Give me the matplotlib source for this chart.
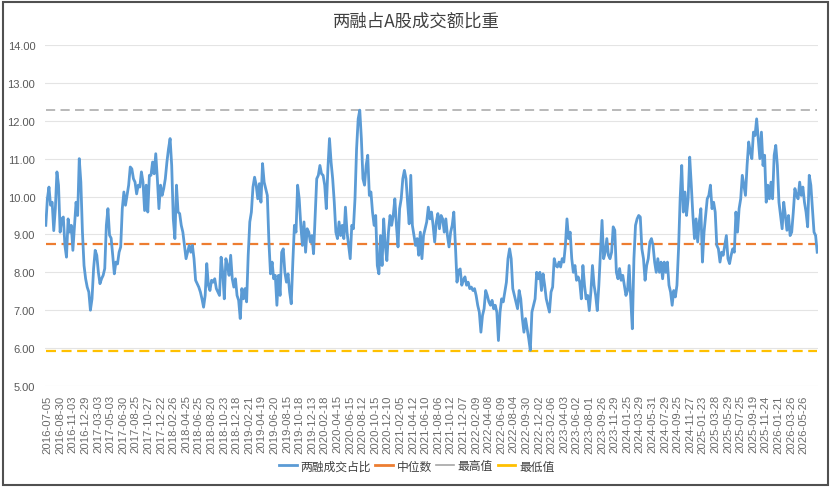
import numpy as np
import matplotlib
matplotlib.use("Agg")
import matplotlib.pyplot as plt
from matplotlib.lines import Line2D
from matplotlib.patches import Rectangle

plt.rcParams['font.family'] = ['Noto Sans CJK SC', 'DejaVu Sans']

# 两融成交占比 (%) from left to right
ratio = [
    9.24, 9.94, 10.25, 9.77, 9.85, 9.1, 9.68, 10.65, 10.3, 9.06, 9.41, 9.46, 8.71, 8.4, 9.41, 9.06,
    9.24, 8.58, 9.2, 9.85, 9.5, 11.0, 10.38, 9.06, 8.18, 7.83, 7.61, 7.48, 7.0, 7.3, 8.1, 8.58,
    8.45, 8.0, 7.7, 7.83, 7.92, 8.1, 9.24, 9.68, 8.98, 8.9, 8.45, 7.96, 8.27, 8.22, 8.53, 8.67,
    9.68, 10.12, 9.77, 10.03, 10.3, 10.78, 10.73, 10.47, 10.38, 10.07, 10.3, 10.25, 10.65, 10.38,
    9.63, 10.3, 9.59, 10.56, 10.56, 10.91, 10.6, 11.13, 10.47, 9.68, 10.3, 10.03, 10.21, 10.47,
    10.91, 11.26, 11.53, 10.82, 9.41, 8.89, 10.3, 9.59, 9.55, 9.24, 9.06, 8.71, 8.36, 8.53, 8.71,
    8.53, 8.71, 8.36, 7.79, 7.7,
    7.61, 7.48, 7.3, 7.08, 7.39, 8.23, 7.66, 7.52, 7.79, 7.74, 7.83, 7.57, 7.48, 7.39, 8.4, 8.0,
    7.3, 8.36, 8.18, 7.92, 8.45, 7.83, 7.61, 7.83, 7.39, 7.26, 6.78, 7.57, 7.3, 7.57, 7.22, 8.45,
    9.33, 9.59, 10.25, 10.51, 10.3, 9.94, 10.34, 9.85, 10.87, 10.38, 10.21, 10.03, 8.8, 7.96, 8.27,
    7.83, 7.92, 7.13, 7.92, 7.39, 8.53, 8.62, 8.0, 7.74, 7.96, 7.48, 7.17, 8.27, 9.24, 9.06, 10.3,
    9.94, 9.24, 8.71, 9.33, 8.53, 9.15, 9.06, 8.8, 8.97, 8.49, 9.5, 10.47, 10.56, 10.82, 10.6,
    10.56, 10.3, 9.68, 10.73, 11.53, 10.91, 10.47, 9.85, 9.06, 8.89, 9.33, 8.97, 9.24, 8.89, 9.72,
    9.06, 8.71, 8.36, 9.24, 9.15,
    9.94, 11.26, 12.05, 12.28, 11.53, 10.47, 10.3, 10.82, 11.09, 10.03, 10.12, 9.59, 9.24, 9.5,
    8.18, 7.96, 8.97, 8.18, 9.41, 8.71, 8.31, 9.06, 9.5, 9.24, 9.5, 9.94, 9.24, 8.67, 9.68, 9.94,
    10.47, 10.69, 10.47, 9.85, 9.28, 10.56, 9.24, 8.97, 8.71, 8.89, 8.45, 9.06, 8.36, 8.97, 9.15,
    9.33, 9.72, 9.41, 9.59, 9.24, 8.8, 9.33, 9.55, 9.15, 9.5, 9.41, 9.06, 9.41, 8.97, 8.67, 9.06,
    9.24, 9.59, 8.71, 7.74, 8.05, 8.09, 7.66, 7.79, 7.88, 7.66, 7.74, 7.57, 7.61, 7.52, 7.57, 7.39,
    7.13, 6.95, 6.42, 6.86, 7.04, 7.52, 7.39, 7.22, 7.13, 7.26, 7.04, 7.13, 6.95, 6.2, 6.95, 7.3,
    7.22, 7.48, 7.74, 8.36,
    8.62, 8.36, 7.57, 7.39, 7.22, 7.04, 7.52, 7.3, 6.78, 6.42, 6.78, 6.51, 6.25, 5.94, 6.95, 7.13,
    7.3, 8.0, 7.83, 8.0, 7.52, 7.96, 7.66, 7.3, 7.13, 6.95, 7.48, 7.61, 8.36, 8.18, 8.14, 8.27,
    8.14, 8.36, 8.27, 8.71, 9.41, 8.89, 9.06, 8.36, 8.0, 8.18, 7.79, 7.88, 7.74, 7.3, 8.18, 7.66,
    7.3, 7.39, 6.99, 7.48, 8.18, 7.66, 7.39, 6.99, 7.66, 8.53, 9.37, 8.36, 8.53, 8.89, 8.45, 8.36,
    8.53, 9.2, 9.11, 8.0, 7.83, 8.1, 7.79, 7.92, 7.66, 7.39, 7.52, 8.18, 7.3, 6.51, 8.36, 9.24,
    9.41, 9.5, 9.46, 8.62, 8.36, 7.79, 8.18, 8.36, 8.8, 8.89, 8.71, 8.27, 8.0, 8.36, 8.0,
    8.27, 7.83, 8.27, 8.0, 8.27, 7.66, 7.48, 7.13, 7.52, 7.35, 7.66, 8.62, 9.94, 10.82, 9.59,
    10.12, 9.5, 9.94, 11.04, 10.3, 9.5, 8.89, 9.41, 8.8, 9.33, 9.68, 8.27, 9.06, 9.5, 9.94, 10.03,
    10.3, 9.68, 9.85, 9.59, 8.71, 8.62, 8.27, 8.53, 8.45, 8.71, 8.97, 8.36, 8.23, 8.45, 8.62, 8.53,
    9.59, 9.06, 9.68, 9.94, 10.56, 10.3, 10.03, 10.82, 11.44, 11.18, 11.0, 11.7, 11.61, 12.05,
    11.53, 11.0, 11.7, 10.82, 11.09, 9.85, 10.3, 9.94, 10.38, 9.94, 11.09, 11.35, 10.82, 9.85,
    9.5, 9.15, 9.85, 9.5, 9.11, 9.5, 8.97, 9.06, 9.59, 10.21, 10.03, 9.94, 10.38, 10.03, 10.25,
    9.85, 9.59, 9.2, 10.56, 10.3, 9.68, 9.06, 8.97, 8.53,
]

median_val = 8.75
max_val = 12.28
min_val = 5.92

dates = [
    "2016-07-05", "2016-08-30", "2016-11-03", "2016-12-29",
    "2017-03-03", "2017-05-03", "2017-06-30", "2017-08-25", "2017-10-27", "2017-12-22",
    "2018-02-26", "2018-04-25", "2018-06-25", "2018-08-20", "2018-10-23", "2018-12-18",
    "2019-02-21", "2019-04-19", "2019-06-20", "2019-08-15", "2019-10-18", "2019-12-13",
    "2020-02-18", "2020-04-15", "2020-06-15", "2020-08-12", "2020-10-15", "2020-12-10",
    "2021-02-05", "2021-04-12", "2021-06-10", "2021-08-06", "2021-10-12", "2021-12-07",
    "2022-02-09", "2022-04-08", "2022-06-09", "2022-08-04", "2022-09-30", "2022-12-02",
    "2023-02-06", "2023-04-03", "2023-06-02", "2023-08-01", "2023-09-26", "2023-11-29",
    "2024-01-25", "2024-03-29", "2024-05-31", "2024-07-29", "2024-09-25", "2024-11-27",
    "2025-01-23", "2025-03-28", "2025-05-29", "2025-07-25", "2025-09-19", "2025-11-24",
    "2026-01-21", "2026-03-26", "2026-05-26",
]

n = len(ratio)
x = np.arange(n)

blue = '#5B9BD5'
orange = '#ED7D31'
gray = '#A5A5A5'
yellow = '#FFC000'

fig = plt.figure(figsize=(8.33, 4.89), dpi=100)
ax = fig.add_axes([0.054, 0.2086, 0.928, 0.6974])

ax.plot(x, ratio, color=blue, lw=2.0, zorder=5)
ax.plot(x, [median_val] * n, color=orange, lw=1.6, ls=(0, (4.5, 2.5)), zorder=4)
ax.plot(x, [max_val] * n, color=gray, lw=1.1, ls=(0, (6, 3.5)), zorder=4)
ax.plot(x, [min_val] * n, color=yellow, lw=1.6, ls=(0, (4.5, 2.5)), zorder=4)

ax.set_ylim(5, 14)
ax.set_xlim(-0.5, n - 0.5)
ax.set_yticks(np.arange(5, 15))
ax.set_yticklabels(["%.2f" % v for v in np.arange(5, 15)])
ax.yaxis.grid(True, color='#E4E4E4', lw=0.8)
ax.set_axisbelow(True)
for s in ax.spines.values():
    s.set_visible(False)

# category ticks, one label every ~40 trading days
tick_pos = np.linspace(0.0022, 0.9823, len(dates)) * (n - 1)
ax.set_xticks(tick_pos)
ax.set_xticklabels(dates, rotation=90, fontfamily='Liberation Sans', fontsize=8.1, color='#6a6a6a')
ax.tick_params(axis='x', length=0, pad=6)
ax.tick_params(axis='y', length=0, pad=7, labelsize=8, labelcolor='#595959')
for lb in ax.get_yticklabels():
    lb.set_fontfamily('Liberation Sans')

fig.text(0.5, 0.955, "两融占A股成交额比重", ha='center', va='center',
         fontsize=12.5, color='#404040')

handles = [Line2D([], [], color=blue, lw=2),
           Line2D([], [], color=orange, lw=2),
           Line2D([], [], color=gray, lw=1.2),
           Line2D([], [], color=yellow, lw=2)]
labels = ["两融成交占比", "中位数", "最高值", "最低值"]
fig.legend(handles, labels, loc='center', bbox_to_anchor=(0.5, 0.045), ncol=4, frameon=False,
           fontsize=8.5, handlelength=1.5, handletextpad=0.3, columnspacing=0.4,
           labelcolor='#404040')

fig.patches.append(Rectangle((0.004, 0.006), 0.99, 0.988, transform=fig.transFigure,
                             fill=False, edgecolor='#505050', lw=1.5))

fig.savefig("out.png", dpi=100)
